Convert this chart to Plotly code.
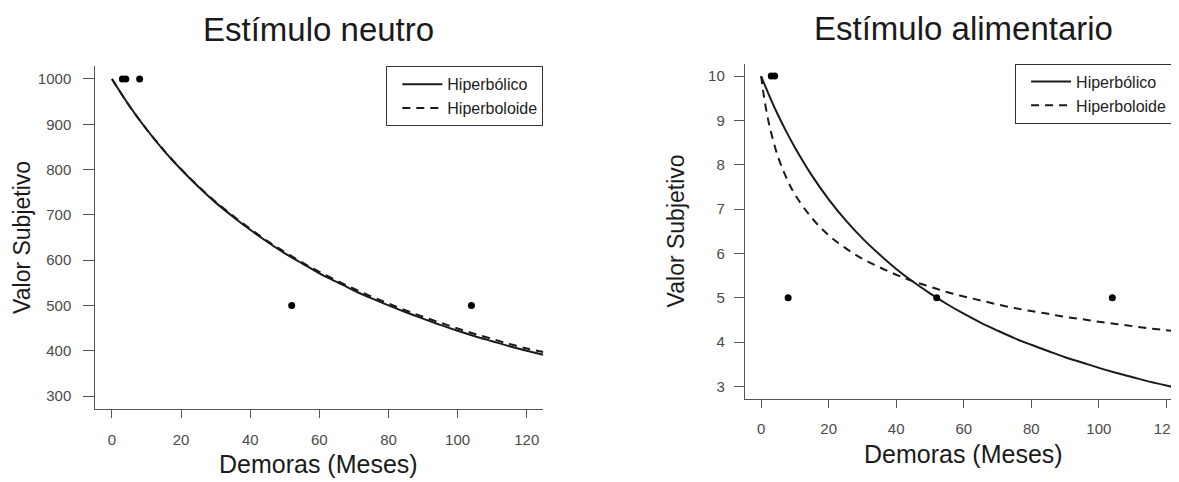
import plotly.graph_objects as go

# ---------------- data ----------------
delays_neutral = [3, 4, 8, 52, 104]
sv_neutral = [1000, 1000, 1000, 500, 500]

delays_food = [3, 4, 8, 52, 104]
sv_food = [10, 10, 5, 5, 5]

curve_x_neutral = [0, 5, 10, 15, 20, 25, 30, 35, 40, 45, 50, 55, 60, 65, 70, 75,
                   80, 85, 90, 95, 100, 105, 110, 115, 120, 124.8]
hyperbolic_neutral = [1000, 941, 889, 842, 800, 762, 727, 696, 667, 640, 615, 593, 571,
                      552, 533, 516, 500, 485, 471, 457, 444, 432, 421, 410, 400, 391]
hyperboloid_neutral = [1000, 941, 889, 843, 801, 763, 729, 698, 669, 642, 618, 595, 574,
                       555, 537, 520, 504, 489, 475, 462, 449, 437, 426, 415, 405, 397]

curve_x_food = [0, 0.5, 1, 2, 3, 5, 7.5, 10, 15, 20, 25, 30, 35, 40, 45, 50, 55, 60,
                65, 70, 75, 80, 85, 90, 95, 100, 105, 110, 115, 120, 124.8]
hyperbolic_food = [10, 9.90, 9.81, 9.63, 9.45, 9.12, 8.74, 8.39, 7.76, 7.22, 6.75, 6.34,
                   5.98, 5.65, 5.36, 5.10, 4.86, 4.64, 4.44, 4.26, 4.09, 3.94, 3.80, 3.66,
                   3.54, 3.42, 3.31, 3.21, 3.11, 3.02, 2.94]
hyperboloid_food = [10, 9.71, 9.46, 9.04, 8.71, 8.18, 7.70, 7.33, 6.80, 6.41, 6.12, 5.88,
                    5.69, 5.52, 5.37, 5.25, 5.13, 5.03, 4.94, 4.85, 4.77, 4.70, 4.64, 4.57,
                    4.52, 4.46, 4.41, 4.36, 4.31, 4.27, 4.23]

x_ticks = [0, 20, 40, 60, 80, 100, 120]
y_ticks_neutral = [300, 400, 500, 600, 700, 800, 900, 1000]
y_ticks_food = [3, 4, 5, 6, 7, 8, 9, 10]

titles = ["Estímulo neutro", "Estímulo alimentario"]
x_title = "Demoras (Meses)"
y_title = "Valor Subjetivo"
legend_names = ["Hiperbólico", "Hiperboloide"]

# ---------------- styling ----------------
FONT = "Liberation Sans, Arial, sans-serif"
VW, VH = 1179, 482          # browser window
OX, OY = 8, 8               # default body margin of the page
FW, FH = VW - OX, VH - OY   # figure size so it ends exactly at the window edge
LINE_C = "#1a1a1a"
AX_C = "#555555"
TICK_C = "#4a4a4a"

fig = go.Figure()

# left panel
fig.add_trace(go.Scatter(x=curve_x_neutral, y=hyperbolic_neutral, mode="lines",
                         line=dict(color=LINE_C, width=2, shape="spline"),
                         name=legend_names[0], legend="legend", xaxis="x", yaxis="y"))
fig.add_trace(go.Scatter(x=curve_x_neutral, y=hyperboloid_neutral, mode="lines",
                         line=dict(color=LINE_C, width=2, dash="8px,6px", shape="spline"),
                         name=legend_names[1], legend="legend", xaxis="x", yaxis="y"))
fig.add_trace(go.Scatter(x=delays_neutral, y=sv_neutral, mode="markers",
                         marker=dict(color="black", size=7), showlegend=False,
                         xaxis="x", yaxis="y"))

# right panel
fig.add_trace(go.Scatter(x=curve_x_food, y=hyperbolic_food, mode="lines",
                         line=dict(color=LINE_C, width=2, shape="spline"),
                         name=legend_names[0], legend="legend2", xaxis="x2", yaxis="y2"))
fig.add_trace(go.Scatter(x=curve_x_food, y=hyperboloid_food, mode="lines",
                         line=dict(color=LINE_C, width=2, dash="8px,6px", shape="spline"),
                         name=legend_names[1], legend="legend2", xaxis="x2", yaxis="y2"))
fig.add_trace(go.Scatter(x=delays_food, y=sv_food, mode="markers",
                         marker=dict(color="black", size=7), showlegend=False,
                         xaxis="x2", yaxis="y2"))


def px_x(p):
    return (p - OX) / FW


def px_y(p):
    return 1 - (p - OY) / FH


axis_common = dict(showline=True, linecolor=AX_C, linewidth=1.3, ticks="outside",
                   tickwidth=1.3, tickcolor=AX_C, showgrid=False,
                   zeroline=False, mirror=False, ticklabeloverflow="allow",
                   tickfont=dict(family=FONT, size=15, color=TICK_C))

legend_common = dict(bordercolor="#333333", borderwidth=1, bgcolor="white",
                     font=dict(family=FONT, size=16, color="#222222"),
                     itemwidth=40, tracegroupgap=0, indentation=10)

fig.update_layout(
    width=FW, height=FH,
    margin=dict(l=0, r=0, t=0, b=0),
    paper_bgcolor="white", plot_bgcolor="white",
    xaxis=dict(domain=[px_x(96), px_x(547)], range=[-4.8, 124.8],
               tickvals=x_ticks, anchor="y", ticklen=8, ticklabelstandoff=9,
               **axis_common),
    yaxis=dict(domain=[px_y(408.7), px_y(66.3)], range=[272, 1028],
               tickvals=y_ticks_neutral, anchor="x", ticklen=11, ticklabelstandoff=9,
               **axis_common),
    xaxis2=dict(domain=[px_x(750), 1.0], range=[-4.8, (VW - 766.3) / 3.4],
                tickvals=x_ticks, anchor="y2", ticklen=8, ticklabelstandoff=8,
                **axis_common),
    yaxis2=dict(domain=[px_y(398.9), px_y(63.6)], range=[2.72, 10.28],
                tickvals=y_ticks_food, anchor="x2", ticklen=10, ticklabelstandoff=6,
                **axis_common),
    legend=dict(x=px_x(547), xanchor="right", y=px_y(66.3), yanchor="top",
                **legend_common),
    legend2=dict(x=px_x(1022), xanchor="left", y=px_y(63.6), yanchor="top",
                 **legend_common),
    showlegend=True,
)

ann = []
ann.append(dict(text=titles[0], x=px_x(321), y=px_y(30), xref="paper", yref="paper",
                showarrow=False, xanchor="center", yanchor="middle",
                font=dict(family=FONT, size=33, color="#1a1a1a")))
ann.append(dict(text=titles[1], x=px_x(970), y=px_y(28), xref="paper", yref="paper",
                showarrow=False, xanchor="center", yanchor="middle",
                font=dict(family=FONT, size=33, color="#1a1a1a")))
ann.append(dict(text=x_title, x=px_x(321), y=px_y(464), xref="paper", yref="paper",
                showarrow=False, xanchor="center", yanchor="middle",
                font=dict(family=FONT, size=25, color="#1a1a1a")))
ann.append(dict(text=x_title, x=px_x(970), y=px_y(454), xref="paper", yref="paper",
                showarrow=False, xanchor="center", yanchor="middle",
                font=dict(family=FONT, size=25, color="#1a1a1a")))
ann.append(dict(text=y_title, x=px_x(22), y=px_y(237), xref="paper", yref="paper",
                showarrow=False, xanchor="center", yanchor="middle", textangle=-90,
                font=dict(family=FONT, size=23, color="#1a1a1a")))
ann.append(dict(text=y_title, x=px_x(681), y=px_y(231), xref="paper", yref="paper",
                showarrow=False, xanchor="center", yanchor="middle", textangle=-90,
                font=dict(family=FONT, size=23, color="#1a1a1a")))
fig.update_layout(annotations=ann)

fig.write_html("out.html")
